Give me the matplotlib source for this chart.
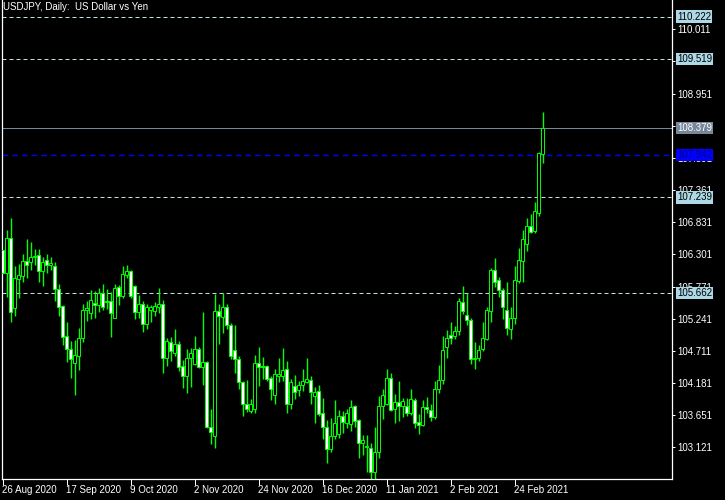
import pandas as pd
import matplotlib.pyplot as plt
from matplotlib.transforms import blended_transform_factory

title = "USDJPY, Daily:  US Dollar vs Yen"

# daily OHLC, 26 Aug 2020 .. 5 Mar 2021
opens = [106.37, 105.99, 106.57, 105.42, 105.90, 105.95, 106.19, 106.18, 106.25, 106.29,
         106.02, 106.21, 106.13, 106.11, 105.73, 105.45, 104.95, 104.74, 104.51, 104.63,
         104.93, 105.38, 105.33, 105.50, 105.47, 105.66, 105.53, 105.53, 105.26, 105.76,
         105.62, 105.96, 106.03, 105.78, 105.35, 105.48, 105.16, 105.39, 105.37, 105.43,
         105.49, 104.59, 104.85, 104.67, 104.83, 104.46, 104.30, 104.60, 104.49, 104.74,
         104.45, 104.52, 103.46, 103.30, 105.36, 105.27, 105.43, 105.14, 104.72, 104.57,
         104.20, 103.83, 103.72, 103.75, 104.51, 104.46, 104.46, 104.27, 103.99, 104.30,
         104.30, 104.42, 103.83, 104.13, 104.07, 104.15, 104.20, 104.23, 103.96, 104.05,
         103.68, 103.46, 103.09, 103.31, 103.34, 103.64, 103.53, 103.50, 103.80, 103.57,
         103.19, 103.13, 103.11, 102.71, 103.04, 103.80, 103.83, 104.26, 103.76, 103.87,
         103.80, 103.80, 103.68, 103.90, 103.54, 103.49, 103.78, 103.74, 103.62, 104.09,
         104.23, 104.77, 104.97, 104.96, 105.04, 105.52, 105.30, 105.22, 104.57, 104.59,
         104.74, 104.90, 105.36, 106.04, 105.88, 105.71, 105.38, 105.07, 105.25, 105.87,
         106.20, 106.48, 106.77, 106.69, 106.99, 107.96]
highs = [106.37, 106.70, 106.90, 106.11, 106.15, 106.31, 106.55, 106.50, 106.39, 106.39,
         106.26, 106.30, 106.26, 106.18, 105.81, 105.46, 105.19, 104.87, 104.89, 105.08,
         105.49, 105.53, 105.71, 105.70, 105.74, 105.81, 105.73, 105.68, 105.81, 105.80,
         106.11, 106.12, 106.05, 105.80, 105.63, 105.53, 105.49, 105.47, 105.51, 105.74,
         105.55, 104.92, 104.94, 105.07, 104.88, 104.56, 104.74, 104.76, 104.95, 104.78,
         105.35, 104.55, 103.76, 105.65, 105.49, 105.67, 105.48, 105.17, 105.14, 104.62,
         104.21, 104.23, 103.92, 104.64, 104.77, 104.61, 104.48, 104.30, 104.41, 104.59,
         104.75, 104.55, 104.25, 104.31, 104.21, 104.41, 104.60, 104.29, 104.12, 104.15,
         103.93, 103.57, 103.60, 103.90, 103.74, 103.72, 103.76, 103.90, 103.82, 103.59,
         103.32, 103.32, 103.20, 103.45, 103.97, 104.09, 104.41, 104.34, 104.00, 104.21,
         103.93, 103.93, 104.09, 103.93, 103.67, 103.90, 103.95, 103.83, 104.21, 104.48,
         104.95, 105.05, 105.18, 105.12, 105.58, 105.78, 105.67, 105.25, 104.86, 104.81,
         105.19, 105.44, 106.07, 106.24, 105.93, 105.75, 105.85, 105.44, 106.11, 106.40,
         106.70, 106.90, 106.97, 107.17, 107.99, 108.65]
lows = [105.99, 105.60, 105.19, 105.29, 105.59, 105.85, 105.92, 106.04, 106.13, 105.85,
        105.78, 105.99, 106.04, 105.53, 105.29, 104.80, 104.52, 104.27, 103.98, 104.40,
        104.86, 105.20, 105.24, 105.26, 105.35, 105.38, 105.40, 104.94, 105.25, 105.47,
        105.59, 105.91, 105.58, 105.24, 105.25, 105.03, 105.07, 105.18, 105.29, 105.33,
        104.34, 104.46, 104.55, 104.62, 104.38, 104.10, 104.02, 104.12, 104.48, 104.43,
        104.15, 103.44, 103.17, 103.11, 104.82, 105.00, 105.07, 104.57, 104.35, 104.08,
        103.64, 103.71, 103.68, 103.68, 104.14, 104.25, 104.21, 103.90, 103.83, 104.20,
        104.21, 103.68, 103.75, 103.92, 103.96, 104.05, 104.18, 103.83, 103.52, 103.63,
        103.26, 102.87, 103.04, 103.26, 103.28, 103.35, 103.44, 103.39, 103.46, 102.95,
        102.99, 102.71, 102.59, 102.60, 102.95, 103.59, 103.82, 103.72, 103.53, 103.56,
        103.62, 103.64, 103.65, 103.44, 103.34, 103.47, 103.68, 103.56, 103.58, 104.02,
        104.17, 104.60, 104.82, 104.90, 104.97, 105.32, 105.14, 104.50, 104.41, 104.55,
        104.71, 104.89, 105.18, 105.77, 105.60, 105.24, 104.97, 104.90, 105.15, 105.83,
        105.85, 106.36, 106.66, 106.66, 106.93, 107.81]
closes = [105.99, 106.57, 105.35, 105.91, 105.96, 106.19, 106.13, 106.25, 106.27, 106.02,
          106.17, 106.13, 106.16, 105.73, 105.44, 104.94, 104.74, 104.57, 104.64, 104.93,
          105.38, 105.41, 105.55, 105.47, 105.66, 105.44, 105.52, 105.33, 105.74, 105.62,
          105.97, 106.03, 105.62, 105.35, 105.48, 105.16, 105.43, 105.43, 105.45, 105.49,
          104.59, 104.87, 104.71, 104.83, 104.45, 104.30, 104.60, 104.67, 104.74, 104.45,
          104.52, 103.46, 103.37, 105.37, 105.29, 105.43, 105.14, 104.62, 104.57, 104.20,
          103.83, 103.75, 103.83, 104.51, 104.45, 104.44, 104.25, 104.09, 104.33, 104.33,
          104.40, 103.83, 104.20, 104.04, 104.15, 104.22, 104.25, 104.03, 104.03, 103.67,
          103.46, 103.09, 103.31, 103.53, 103.64, 103.54, 103.68, 103.78, 103.56, 103.19,
          103.25, 103.14, 102.71, 103.05, 103.80, 103.98, 104.26, 103.74, 103.87, 103.80,
          103.88, 103.69, 103.91, 103.53, 103.49, 103.78, 103.75, 103.62, 104.09, 104.23,
          104.72, 104.92, 104.93, 105.04, 105.53, 105.37, 105.22, 104.57, 104.60, 104.72,
          104.93, 105.38, 106.04, 105.85, 105.71, 105.43, 105.08, 105.25, 105.88, 106.21,
          106.55, 106.77, 106.67, 107.02, 107.97, 108.38]

price_ticks = [103.121, 103.651, 104.181, 104.711, 105.241, 105.771, 106.301,
               106.831, 107.361, 107.891, 108.421, 108.951, 109.481, 110.011]
levels = [110.222, 109.519, 107.239, 105.662]
bid = 108.379
blue_level = 107.942

dates = pd.bdate_range("2020-08-26", "2021-03-05")
dates = dates.drop(pd.to_datetime(["2020-12-25", "2021-01-01"]))

plt.rcParams["font.family"] = ["Liberation Sans", "DejaVu Sans"]

fig = plt.figure(figsize=(7.25, 5), dpi=100, facecolor="black")
ax = fig.add_axes([2 / 725, 21 / 500, 670 / 725, 479 / 500])
ax.set_facecolor("black")

x = list(range(len(closes)))
ax.vlines(x, lows, highs, color="#00ff00", linewidth=1.0, zorder=2, snap=True)
bottoms = [min(o, c) for o, c in zip(opens, closes)]
heights = [abs(c - o) for o, c in zip(opens, closes)]
fills = ["white" if c < o else "black" for o, c in zip(opens, closes)]
ax.bar(x, heights, width=0.6, bottom=bottoms, color=fills,
       edgecolor="#00ff00", linewidth=0.7, zorder=3, snap=True)

dash = (0, (4, 3))
for p in levels:
    ax.axhline(p, color="#c4dfe8", linewidth=0.72, linestyle=dash, zorder=1)
ax.axhline(bid, color="#778899", linewidth=0.72, zorder=1)
ax.axhline(blue_level, color="#0000ff", linewidth=1.0, linestyle=dash, zorder=1)

ax.set_xlim(-0.125, 167.375)
ax.set_ylim(102.599, 110.494)

# price scale on the right
ax.yaxis.tick_right()
ax.set_yticks(price_ticks)
ax.set_yticklabels([f"{p:.3f}" for p in price_ticks])
ax.tick_params(axis="y", colors="white", length=2, width=0.72, pad=1.5, labelsize=7)

# dates every 16 bars
ticks = x[::16]
ax.set_xticks(ticks)
ax.set_xticklabels([f"{dates[i].day} {dates[i]:%b %Y}" for i in ticks])
for lbl in ax.get_xticklabels():
    lbl.set_ha("left")
ax.tick_params(axis="x", colors="white", length=4, width=0.72, pad=0, labelsize=7)

for side in ["left", "right", "bottom"]:
    ax.spines[side].set_color("white")
    ax.spines[side].set_linewidth(0.9)
ax.spines["top"].set_visible(False)

trans = blended_transform_factory(ax.transAxes, ax.transData)
box_labels = [(p, "#add8e6", "black") for p in levels]
box_labels += [(bid, "#778899", "white"), (blue_level, "#0000ff", "#000090")]
for p, bg, fg in box_labels:
    ax.text(1.0075, p, f"{p:.3f}", transform=trans, va="center", ha="left",
            fontsize=7, color=fg, zorder=10, clip_on=False,
            bbox=dict(boxstyle="square,pad=0.12", fc=bg, ec="none"))

fig.text(3 / 725, 1 - 2 / 500, title, ha="left", va="top", color="white", fontsize=7)

fig.savefig("out.png", dpi=100, facecolor="black")
